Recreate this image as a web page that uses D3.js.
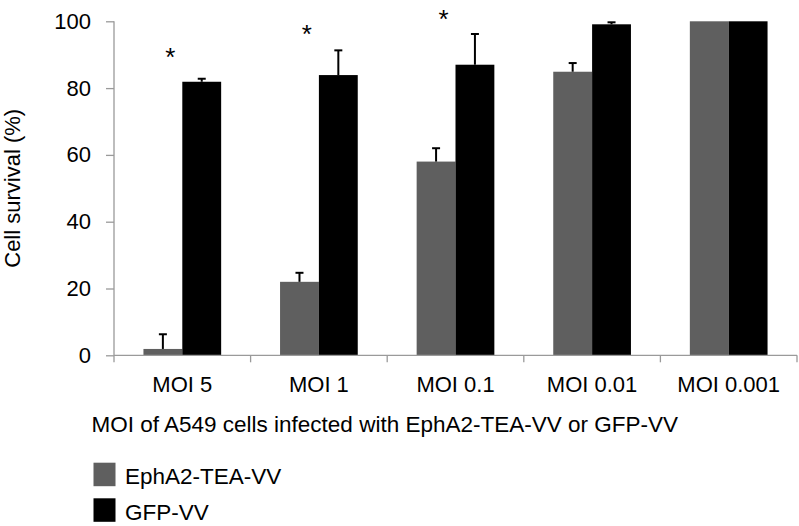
<!DOCTYPE html>
<html>
<head>
<meta charset="utf-8">
<script src="https://cdn.jsdelivr.net/npm/d3@7"></script>
<style>
  html, body { margin: 0; padding: 0; background: #fff; }
  svg { display: block; }
  text { font-family: "Liberation Sans", Arial, Helvetica, sans-serif; fill: #000; }
</style>
</head>
<body>
<svg id="chart" width="799" height="526"></svg>
<script>
// ---- data ----
const categories = ["MOI 5", "MOI 1", "MOI 0.1", "MOI 0.01", "MOI 0.001"];
const seriesNames = ["EphA2-TEA-VV", "GFP-VV"];
const ephValues = [1.9, 22.0, 58.0, 84.9, 100];
const ephErrTop = [6.3, 24.7, 62.0, 87.5, null];
const gfpValues = [81.9, 83.9, 87.0, 99.1, 100];
const gfpErrTop = [82.8, 91.3, 96.2, 99.7, null];
const starCategories = ["MOI 5", "MOI 1", "MOI 0.1"];
const starLevels = [91, 98, 102.5];
const yTicks = [0, 20, 40, 60, 80, 100];
const xTitle = "MOI of A549 cells infected with EphA2-TEA-VV or GFP-VV";
const yTitle = "Cell survival (%)";
const colors = ["#5f5f5f", "#000000"];

// ---- layout ----
const svg = d3.select("#chart");
const mLeft = 114, mRight = 797, mTop = 21.3, mBottom = 355.3;
const FS = 22;

const x = d3.scaleBand().domain(categories).range([mLeft, mRight]).paddingInner(0).paddingOuter(0);
const x1 = d3.scaleBand().domain(seriesNames).range([0, x.bandwidth()]).paddingInner(0).paddingOuter(0.758);
const y = d3.scaleLinear().domain([0, 100]).range([mBottom, mTop]);

// y axis
const yAxis = svg.append("g").attr("transform", `translate(${mLeft},0)`)
  .call(d3.axisLeft(y).tickValues(yTicks).tickSize(8).tickPadding(15).tickFormat(d3.format("d")));
yAxis.select(".domain").attr("stroke", "#9a9a9a").attr("stroke-width", 1.3)
  .attr("d", `M0,${y(100)}V${mBottom}`);
yAxis.selectAll(".tick line").attr("stroke", "#9a9a9a").attr("stroke-width", 1.3);
yAxis.selectAll(".tick text").attr("font-size", FS).attr("font-family", "Liberation Sans, Arial, sans-serif").attr("fill", "#000");

// bars
const rows = categories.map((c, i) => ({
  cat: c,
  vals: [
    { s: seriesNames[0], v: ephValues[i], e: ephErrTop[i], c: colors[0] },
    { s: seriesNames[1], v: gfpValues[i], e: gfpErrTop[i], c: colors[1] }
  ]
}));

const g = svg.append("g");
const grp = g.selectAll("g.cat").data(rows).join("g")
  .attr("class", "cat")
  .attr("transform", d => `translate(${x(d.cat)},0)`);

grp.selectAll("rect").data(d => d.vals).join("rect")
  .attr("x", d => x1(d.s))
  .attr("y", d => y(d.v))
  .attr("width", x1.bandwidth())
  .attr("height", d => y(0) - y(d.v))
  .attr("fill", d => d.c);

// error bars (upper only)
const eb = grp.selectAll("g.err").data(d => d.vals.filter(v => v.e != null)).join("g").attr("class", "err");
eb.append("line")
  .attr("x1", d => x1(d.s) + x1.bandwidth() / 2)
  .attr("x2", d => x1(d.s) + x1.bandwidth() / 2)
  .attr("y1", d => y(d.v))
  .attr("y2", d => y(d.e))
  .attr("stroke", "#000").attr("stroke-width", 2);
eb.append("line")
  .attr("x1", d => x1(d.s) + x1.bandwidth() / 2 - 4)
  .attr("x2", d => x1(d.s) + x1.bandwidth() / 2 + 4)
  .attr("y1", d => y(d.e))
  .attr("y2", d => y(d.e))
  .attr("stroke", "#000").attr("stroke-width", 2);

// x axis line and boundary ticks
const bounds = categories.map(c => x(c)).concat([mRight]);
svg.append("line").attr("x1", mLeft).attr("x2", mRight).attr("y1", mBottom).attr("y2", mBottom)
  .attr("stroke", "#9a9a9a").attr("stroke-width", 1.3);
svg.selectAll("line.xt").data(bounds).join("line").attr("class", "xt")
  .attr("x1", d => d).attr("x2", d => d).attr("y1", mBottom).attr("y2", mBottom + 7)
  .attr("stroke", "#9a9a9a").attr("stroke-width", 1.3);

// x labels
svg.selectAll("text.xl").data(categories).join("text").attr("class", "xl")
  .attr("x", d => x(d) + x.bandwidth() / 2)
  .attr("y", 392)
  .attr("text-anchor", "middle")
  .attr("font-size", FS)
  .text(d => d);

// stars
svg.selectAll("text.star").data(starCategories.map((c, i) => ({ c, v: starLevels[i] }))).join("text")
  .attr("class", "star")
  .attr("x", d => x(d.c) + x.bandwidth() / 2 - 12)
  .attr("y", d => y(d.v) + 15)
  .attr("text-anchor", "middle")
  .attr("font-size", 26)
  .text("*");

// axis titles
svg.append("text").attr("x", 91.5).attr("y", 432).attr("font-size", 22.5).text(xTitle);
svg.append("text")
  .attr("transform", `translate(19.5,${(mTop + mBottom) / 2}) rotate(-90)`)
  .attr("text-anchor", "middle")
  .attr("font-size", FS)
  .text(yTitle);

// legend
const leg = svg.selectAll("g.leg").data(seriesNames).join("g").attr("class", "leg")
  .attr("transform", (d, i) => `translate(93.5,${462.7 + i * 35.6})`);
leg.append("rect").attr("width", 22).attr("height", 23.5).attr("fill", (d, i) => colors[i]);
leg.append("text").attr("x", 31.5).attr("y", 21.6).attr("font-size", 22.5).text(d => d);
</script>
</body>
</html>
